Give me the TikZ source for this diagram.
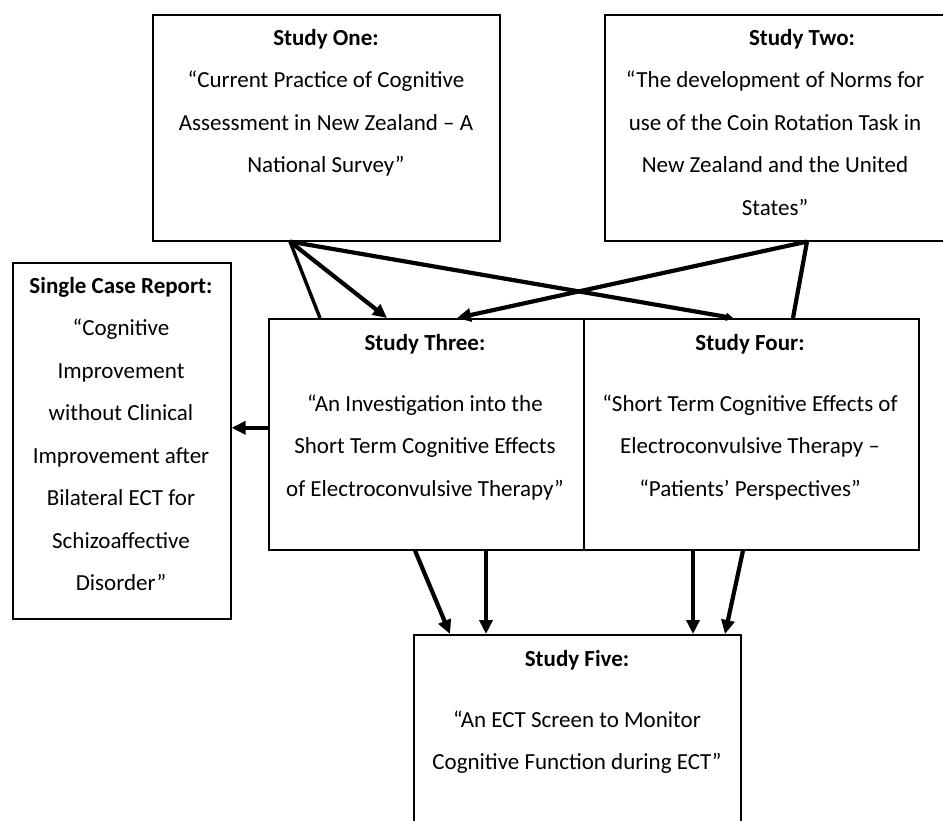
\documentclass[tikz,border=0pt]{standalone}
\usepackage{fontspec}
\setmainfont{Carlito}
\usetikzlibrary{arrows.meta}
\tikzset{
  box/.style={draw=black, line width=1.6pt, rectangle, inner sep=0pt, anchor=north west},
  txt/.style={align=center, inner sep=0pt, anchor=north, font=\fontsize{23}{42.5}\selectfont},
  conn/.style={line width=4.2pt, line cap=butt},
  thinconn/.style={line width=3.4pt},
  arr/.style={line width=4.2pt, -{Triangle[length=14pt,width=13pt]}},
  smallarr/.style={line width=4.2pt, -{Triangle[length=7pt,width=8pt]}}
}
\begin{document}
\begin{tikzpicture}[x=1pt,y=-1pt]
\useasboundingbox (0,0) rectangle (943,821);
% boxes
\node[box, minimum width=347pt, minimum height=226pt] (s1) at (152,14) {};
\node[box, minimum width=343pt, minimum height=226pt] (s2) at (604,14) {};
\node[box, minimum width=218pt, minimum height=356pt] (single) at (12,262) {};
\node[box, minimum width=315pt, minimum height=231pt] (s3) at (268,318) {};
\node[box, minimum width=335pt, minimum height=231pt] (s4) at (583,318) {};
\node[box, minimum width=327pt, minimum height=200pt] (s5) at (413,634) {};
% texts
\node[txt] (t1) at (326,29) {\textbf{Study One:}\\“Current Practice of Cognitive\\Assessment in New Zealand – A\\National Survey”};
\node[txt] (t2) at (775,29) {\hspace*{54pt}\textbf{Study Two:}\\“The development of Norms for\\use of the Coin Rotation Task in\\New Zealand and the United\\States”};
\node[txt] (tsingle) at (121,277) {\textbf{Single Case Report:}\\“Cognitive\\Improvement\\without Clinical\\Improvement after\\Bilateral ECT for\\Schizoaffective\\Disorder”};
\node[txt] (t3) at (425,334) {\textbf{Study Three:}\\[18.5pt]“An Investigation into the\\Short Term Cognitive Effects\\of Electroconvulsive Therapy”};
\node[txt] (t4) at (750,334) {\textbf{Study Four:}\\[18.5pt]“Short Term Cognitive Effects of\\Electroconvulsive Therapy –\\“Patients’ Perspectives”};
\node[txt] (t5) at (577,650) {\textbf{Study Five:}\\[18.5pt]“An ECT Screen to Monitor\\Cognitive Function during ECT”};
% top connectors
\draw[thinconn] ([xshift=138pt]s1.south west) -- ([xshift=52pt]s3.north west);
\draw[arr] ([xshift=138pt]s1.south west) -- ([xshift=119pt]s3.north west);
\draw[smallarr] ([xshift=138pt]s1.south west) -- ([xshift=150pt]s4.north west);
\draw[arr] ([xshift=203pt]s2.south west) -- ([xshift=189pt]s3.north west);
\draw[conn] ([xshift=203pt]s2.south west) -- ([xshift=210pt]s4.north west);
% left connector
\draw[arr] ([yshift=6.5pt]s3.west) -- ([yshift=6.5pt]s3.west -| single.east);
% bottom connectors
\draw[arr] ([xshift=147pt]s3.south west) -- ([xshift=37pt]s5.north west);
\draw[arr] ([xshift=218pt]s3.south west) -- ([xshift=73pt]s5.north west);
\draw[arr] ([xshift=110pt]s4.south west) -- ([xshift=280pt]s5.north west);
\draw[arr] ([xshift=160pt]s4.south west) -- ([xshift=312pt]s5.north west);
\end{tikzpicture}
\end{document}
